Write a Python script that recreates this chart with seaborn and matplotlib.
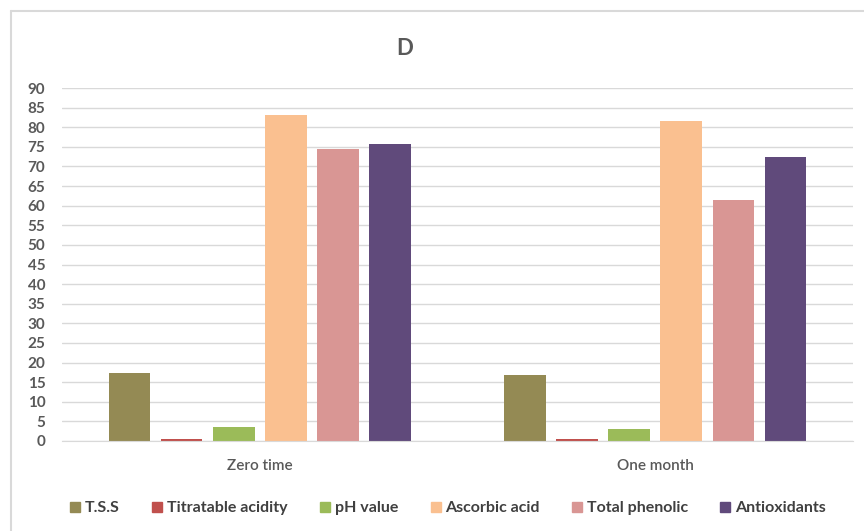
import matplotlib
matplotlib.use("Agg")
import matplotlib.pyplot as plt
from matplotlib.lines import Line2D
import seaborn as sns
import pandas as pd

periods = ["Zero time", "One month"]
series = ["T.S.S", "Titratable acidity", "pH value", "Ascorbic acid", "Total phenolic", "Antioxidants"]
tss = [17.3, 16.8]
titratable_acidity = [0.6, 0.5]
ph_value = [3.6, 3.1]
ascorbic_acid = [83.1, 81.5]
total_phenolic = [74.4, 61.5]
antioxidants = [75.8, 72.4]
colors = ["#948A54", "#C0504D", "#9BBB59", "#FAC090", "#D99694", "#604A7B"]
yticks = list(range(0, 91, 5))

values = [tss, titratable_acidity, ph_value, ascorbic_acid, total_phenolic, antioxidants]
rows = []
for s, vals in zip(series, values):
    for p, v in zip(periods, vals):
        rows.append({"Period": p, "Parameter": s, "Value": v})
df = pd.DataFrame(rows)

sns.set_style("white")
plt.rcParams["font.family"] = ["Lato", "DejaVu Sans"]

fig = plt.figure(figsize=(8.64, 5.31), dpi=100)
ax = fig.add_axes([62 / 864, 1 - 441 / 531, (853 - 62) / 864, (441 - 88) / 531])

sns.barplot(data=df, x="Period", y="Value", hue="Parameter", order=periods,
            hue_order=series, palette=colors, width=0.79, ax=ax,
            legend=False, saturation=1, errorbar=None)

for p in ax.patches:
    w = p.get_width()
    x = p.get_x()
    nw = w * 0.8
    p.set_x(x + (w - nw) / 2)
    p.set_width(nw)
    p.set_edgecolor("none")

ax.set_xlim(-0.5, 1.5)
ax.set_ylim(0, 90)
ax.set_yticks(yticks)
ax.set_yticklabels([str(t) for t in yticks], fontsize=11, fontweight="bold", color="#595959")
ax.tick_params(axis="y", length=0, pad=12)
ax.tick_params(axis="x", length=0, pad=13, labelsize=11, labelcolor="#595959")
for lbl in ax.get_xticklabels():
    lbl.set_fontweight("semibold")
ax.grid(axis="y", color="#D9D9D9", linewidth=1)
ax.set_axisbelow(True)
for s in ["top", "right", "left"]:
    ax.spines[s].set_visible(False)
ax.spines["bottom"].set_color("#D9D9D9")
ax.set_xlabel("")
ax.set_ylabel("")

fig.text(405 / 864, 1 - 48 / 531, "D", ha="center", va="center",
         fontsize=16, fontweight="bold", color="#595959")

handles = [Line2D([0], [0], marker="s", linestyle="none", markersize=7,
                  markerfacecolor=c, markeredgecolor=c) for c in colors]
leg = fig.legend(handles, series, loc="center", bbox_to_anchor=(447 / 864, 1 - 508 / 531),
                 ncol=6, frameon=False, fontsize=11.5, labelcolor="#404040",
                 handletextpad=0.15, columnspacing=1.9, handlelength=0.9)
for t in leg.get_texts():
    t.set_fontweight("bold")

# chart border
fig.add_artist(Line2D([11 / 864, 11 / 864], [0, 1 - 11 / 531], color="#D9D9D9", linewidth=1.5, transform=fig.transFigure))
fig.add_artist(Line2D([11 / 864, 1], [1 - 11 / 531, 1 - 11 / 531], color="#D9D9D9", linewidth=1.5, transform=fig.transFigure))

fig.savefig("out.png", dpi=100)
